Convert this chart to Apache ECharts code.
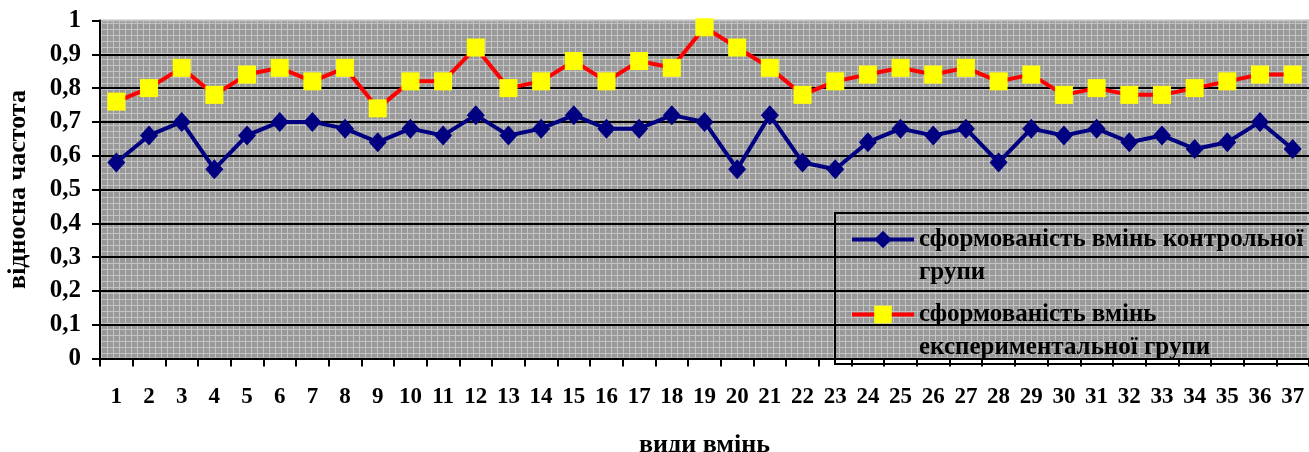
<!DOCTYPE html>
<html>
<head>
<meta charset="utf-8">
<script src="https://cdn.jsdelivr.net/npm/echarts@6/dist/echarts.min.js"></script>
<style>
  html, body { margin: 0; padding: 0; background: #fff; }
  #chart { width: 1309px; height: 452px; }
</style>
</head>
<body>
<div id="chart"></div>
<script>
// Skill types 1..37
const categories = ['1','2','3','4','5','6','7','8','9','10','11','12','13','14','15','16','17','18','19',
  '20','21','22','23','24','25','26','27','28','29','30','31','32','33','34','35','36','37'];

// Relative frequency of formed skills, control group
const controlGroup = [0.58,0.66,0.70,0.56,0.66,0.70,0.70,0.68,0.64,0.68,0.66,0.72,0.66,0.68,0.72,0.68,0.68,0.72,0.70,
  0.56,0.72,0.58,0.56,0.64,0.68,0.66,0.68,0.58,0.68,0.66,0.68,0.64,0.66,0.62,0.64,0.70,0.62];

// Relative frequency of formed skills, experimental group
const experimentalGroup = [0.76,0.80,0.86,0.78,0.84,0.86,0.82,0.86,0.74,0.82,0.82,0.92,0.80,0.82,0.88,0.82,0.88,0.86,0.98,
  0.92,0.86,0.78,0.82,0.84,0.86,0.84,0.86,0.82,0.84,0.78,0.80,0.78,0.78,0.80,0.82,0.84,0.84];

const yTickLabels = ['0','0,1','0,2','0,3','0,4','0,5','0,6','0,7','0,8','0,9','1'];

const seriesNames = ['сформованість вмінь контрольної\nгрупи', 'сформованість вмінь\nекспериментальної групи'];

// Grey plot fill with a fine light lattice
function makePattern() {
  const c = document.createElement('canvas');
  c.width = 6; c.height = 6;
  const g = c.getContext('2d');
  g.fillStyle = '#999999';
  g.fillRect(0, 0, 6, 6);
  g.fillStyle = '#c4c4c4';
  g.fillRect(5, 0, 1, 6);
  g.fillRect(0, 5, 6, 1);
  return c;
}

const FONT = 'Liberation Serif';
const chart = echarts.init(document.getElementById('chart'), null, { renderer: 'canvas' });

chart.setOption({
  animation: false,
  backgroundColor: '#ffffff',
  grid: {
    show: true,
    outerBoundsMode: 'none',
    containLabel: false,
    left: 100, right: 0, top: 20.5, bottom: 93.5,
    backgroundColor: { image: makePattern(), repeat: 'repeat' },
    borderColor: '#c0c0c0',
    borderWidth: 2
  },
  legend: {
    orient: 'vertical',
    left: 835, top: 213,
    padding: [10, 120, 4, 15],
    itemGap: 13,
    itemWidth: 62,
    itemHeight: 22,
    backgroundColor: 'transparent',
    borderColor: '#000',
    borderWidth: 2,
    borderRadius: 0,
    lineStyle: { width: 4 },
    // Two-line labels: the icon sits beside the first line, the second line hangs below
    formatter: function (name) {
      return name.split('\n').map(function (s) { return '{t|' + s + '}'; }).join('\n');
    },
    textStyle: {
      fontFamily: FONT, fontWeight: 'bold', fontSize: 25, color: '#000',
      lineHeight: 33, height: 33,
      rich: { t: { fontFamily: FONT, fontWeight: 'bold', fontSize: 25, color: '#000', lineHeight: 33 } }
    },
    data: seriesNames
  },
  xAxis: {
    type: 'category',
    data: categories,
    boundaryGap: true,
    name: 'види вмінь',
    nameLocation: 'middle',
    nameGap: 74,
    nameTextStyle: { fontFamily: FONT, fontWeight: 'bold', fontSize: 26, color: '#000' },
    axisLine: { lineStyle: { color: '#000', width: 2 } },
    axisTick: { show: true, length: 8, lineStyle: { color: '#000', width: 2 } },
    axisLabel: { fontFamily: FONT, fontWeight: 'bold', fontSize: 23, color: '#000', margin: 27, interval: 0 },
    splitLine: { show: false }
  },
  yAxis: {
    type: 'value',
    min: 0, max: 1, interval: 0.1,
    name: 'відносна частота',
    nameLocation: 'middle',
    nameGap: 69,
    nameTextStyle: { fontFamily: FONT, fontWeight: 'bold', fontSize: 26, color: '#000' },
    axisLine: { show: true, lineStyle: { color: '#000', width: 2 } },
    axisTick: { show: true, length: 8, lineStyle: { color: '#000', width: 2 } },
    axisLabel: {
      fontFamily: FONT, fontWeight: 'bold', fontSize: 25, color: '#000', margin: 19,
      formatter: function (v) { return yTickLabels[Math.round(v * 10)]; }
    },
    splitLine: { show: true, showMaxLine: false, lineStyle: { color: '#000', width: 2 } }
  },
  series: [
    {
      name: seriesNames[0],
      type: 'line',
      data: controlGroup,
      symbol: 'diamond',
      symbolSize: [18, 20],
      lineStyle: { color: '#000080', width: 4 },
      itemStyle: { color: '#000080' },
      z: 3
    },
    {
      name: seriesNames[1],
      type: 'line',
      data: experimentalGroup,
      symbol: 'rect',
      symbolSize: 18,
      lineStyle: { color: '#ff0000', width: 4 },
      itemStyle: { color: '#ffff00' },
      z: 3
    }
  ]
});
</script>
</body>
</html>
